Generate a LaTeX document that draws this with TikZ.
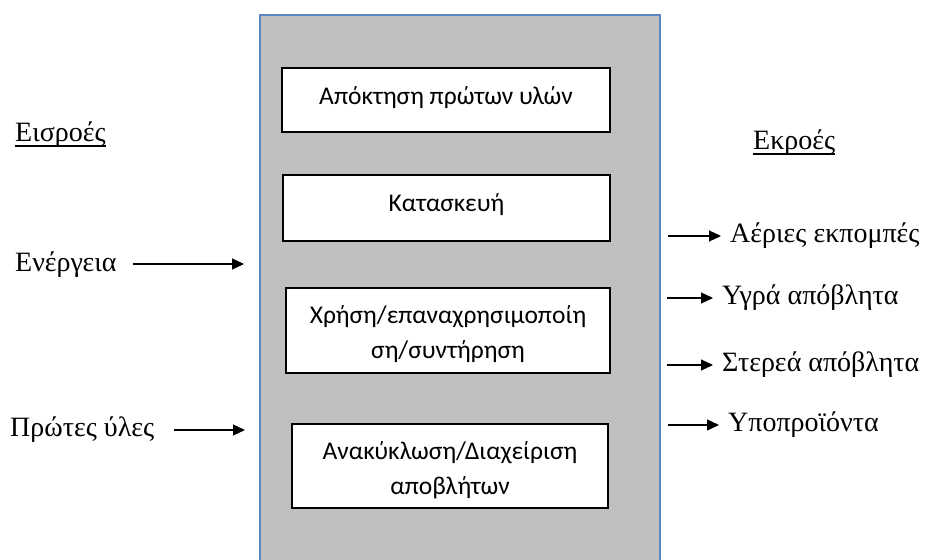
\documentclass[tikz,border=0pt]{standalone}
\usepackage{fontspec}
\setmainfont{Liberation Serif}
\newfontfamily\boxfont{Carlito}
\usetikzlibrary{arrows.meta}
\definecolor{panelgray}{HTML}{BFBFBF}
\definecolor{panelblue}{HTML}{5B87C0}
\newcommand\thickul[1]{\setbox0\hbox{#1}\rlap{\raisebox{-5pt}{\rule{\wd0}{1.8pt}}}\box0}
\begin{document}
\begin{tikzpicture}[x=1pt,y=-1pt,
  stagebox/.style={draw=black,line width=1.5pt,fill=white,inner sep=0pt},
  stagetext/.style={font=\boxfont\fontsize{25.5}{35}\selectfont,align=center,inner sep=0pt},
  label/.style={font=\fontsize{28}{32}\selectfont,inner sep=0pt,anchor=west},
  flow/.style={-{Triangle[length=12pt,width=11pt]},line width=1.1pt}]
\useasboundingbox (0,0) rectangle (928,559);
\clip (0,0) rectangle (928,559);
\fill[white] (0,0) rectangle (928,559);
\draw[fill=panelgray,draw=panelblue,line width=1.5pt] (260,15) rectangle (660,575);
\node[stagebox,minimum width=328pt,minimum height=64pt] (s1) at (446,100) {};
\node[stagetext] (s1t) at ([yshift=2pt]s1.center) {Απόκτηση πρώτων υλών};
\node[stagebox,minimum width=327pt,minimum height=66pt] (s2) at (446.5,208) {};
\node[stagetext] (s2t) at ([yshift=3pt]s2.center) {Κατασκευή};
\node[stagebox,minimum width=324pt,minimum height=85pt] (s3) at (448,330.5) {};
\node[stagetext] (s3t) at ([yshift=-3.5pt]s3.center) {Χρήση/επαναχρησιμοποίη\\ση/συντήρηση};
\node[stagebox,minimum width=316pt,minimum height=84pt] (s4) at (450,466) {};
\node[stagetext] (s4t) at ([yshift=-4.5pt]s4.center) {Ανακύκλωση/Διαχείριση\\αποβλήτων};
% inputs
\node[label] (inh) at (15,135) {\thickul{Εισροές}};
\node[label] (en) at (15,265) {Ενέργεια};
\node[label] (raw) at (10,430) {Πρώτες ύλες};
\coordinate (enT) at (244,264);
\coordinate (rawT) at (245,430);
\draw[flow] ([xshift=16pt,yshift=1pt]en.east) -- (enT);
\draw[flow] ([xshift=20pt]raw.east) -- (rawT);
% outputs
\node[label] (outh) at (753,143) {\thickul{Εκροές}};
\node[label] (o1) at (730,236) {Αέριες εκπομπές};
\node[label] (o2) at (722,298) {Υγρά απόβλητα};
\node[label] (o3) at (722,365) {Στερεά απόβλητα};
\node[label] (o4) at (728,425) {Υποπροϊόντα};
\coordinate (o1s) at (668,236);
\coordinate (o2s) at (667,298);
\coordinate (o3s) at (667,365);
\coordinate (o4s) at (668,425);
\draw[flow] (o1s) -- ([xshift=-9pt]o1.west);
\draw[flow] (o2s) -- ([xshift=-9pt]o2.west);
\draw[flow] (o3s) -- ([xshift=-9pt]o3.west);
\draw[flow] (o4s) -- ([xshift=-9pt]o4.west);
\end{tikzpicture}
\end{document}
